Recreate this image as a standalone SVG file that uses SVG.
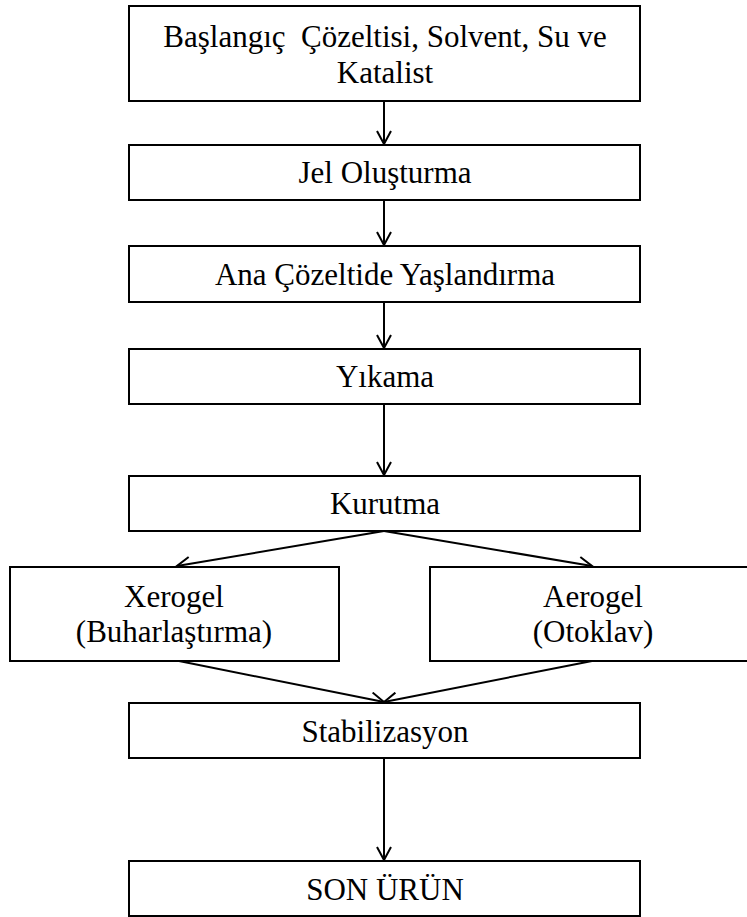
<svg xmlns="http://www.w3.org/2000/svg" width="747" height="917" viewBox="0 0 747 917">
<style>
.box{fill:#fff;stroke:#000;stroke-width:2}
.lbl{font-family:"Liberation Serif","Times New Roman",serif;font-size:31px;fill:#000;text-anchor:middle}
.con{fill:none;stroke:#000;stroke-width:2}
</style>
<defs>
<marker id="arr" viewBox="0 0 16 16" refX="14" refY="8" markerWidth="16" markerHeight="16" markerUnits="userSpaceOnUse" orient="auto">
<path d="M1,1 L14,8 L1,15" fill="none" stroke="#000" stroke-width="2"/>
</marker>
</defs>
<rect width="747" height="917" fill="#fff"/>
<g id="connectors">
<line class="con" x1="384" y1="101" x2="384" y2="144" marker-end="url(#arr)"/>
<line class="con" x1="384" y1="200" x2="384" y2="245" marker-end="url(#arr)"/>
<line class="con" x1="384" y1="302" x2="384" y2="348" marker-end="url(#arr)"/>
<line class="con" x1="384" y1="404" x2="384" y2="475" marker-end="url(#arr)"/>
<line class="con" x1="384" y1="531" x2="177" y2="566" marker-end="url(#arr)"/>
<line class="con" x1="384" y1="531" x2="592" y2="566" marker-end="url(#arr)"/>
<line class="con" x1="179" y1="661" x2="384" y2="702" marker-end="url(#arr)"/>
<line class="con" x1="592" y1="661" x2="384" y2="702" marker-end="url(#arr)"/>
<line class="con" x1="384" y1="758" x2="384" y2="860" marker-end="url(#arr)"/>
</g>
<g id="n1">
<rect class="box" x="129" y="6" width="511" height="95"/>
<text class="lbl" x="385" y="47">Başlangıç &#160;Çözeltisi, Solvent, Su ve</text>
<text class="lbl" x="385" y="83">Katalist</text>
</g>
<g id="n2">
<rect class="box" x="129" y="145" width="511" height="55"/>
<text class="lbl" x="385" y="183">Jel Oluşturma</text>
</g>
<g id="n3">
<rect class="box" x="129" y="246" width="511" height="56"/>
<text class="lbl" x="385" y="285">Ana Çözeltide Yaşlandırma</text>
</g>
<g id="n4">
<rect class="box" x="129" y="349" width="511" height="55"/>
<text class="lbl" x="385" y="387">Yıkama</text>
</g>
<g id="n5">
<rect class="box" x="129" y="476" width="511" height="55"/>
<text class="lbl" x="385" y="514">Kurutma</text>
</g>
<g id="n6">
<rect class="box" x="10" y="567" width="329" height="94"/>
<text class="lbl" x="174" y="607">Xerogel</text>
<text class="lbl" x="174" y="642">(Buharlaştırma)</text>
</g>
<g id="n7">
<rect class="box" x="430" y="567" width="326" height="94"/>
<text class="lbl" x="593" y="607">Aerogel</text>
<text class="lbl" x="593" y="642">(Otoklav)</text>
</g>
<g id="n8">
<rect class="box" x="129" y="703" width="511" height="55"/>
<text class="lbl" x="385" y="742">Stabilizasyon</text>
</g>
<g id="n9">
<rect class="box" x="129" y="861" width="511" height="55"/>
<text class="lbl" x="385" y="900">SON ÜRÜN</text>
</g>
</svg>
